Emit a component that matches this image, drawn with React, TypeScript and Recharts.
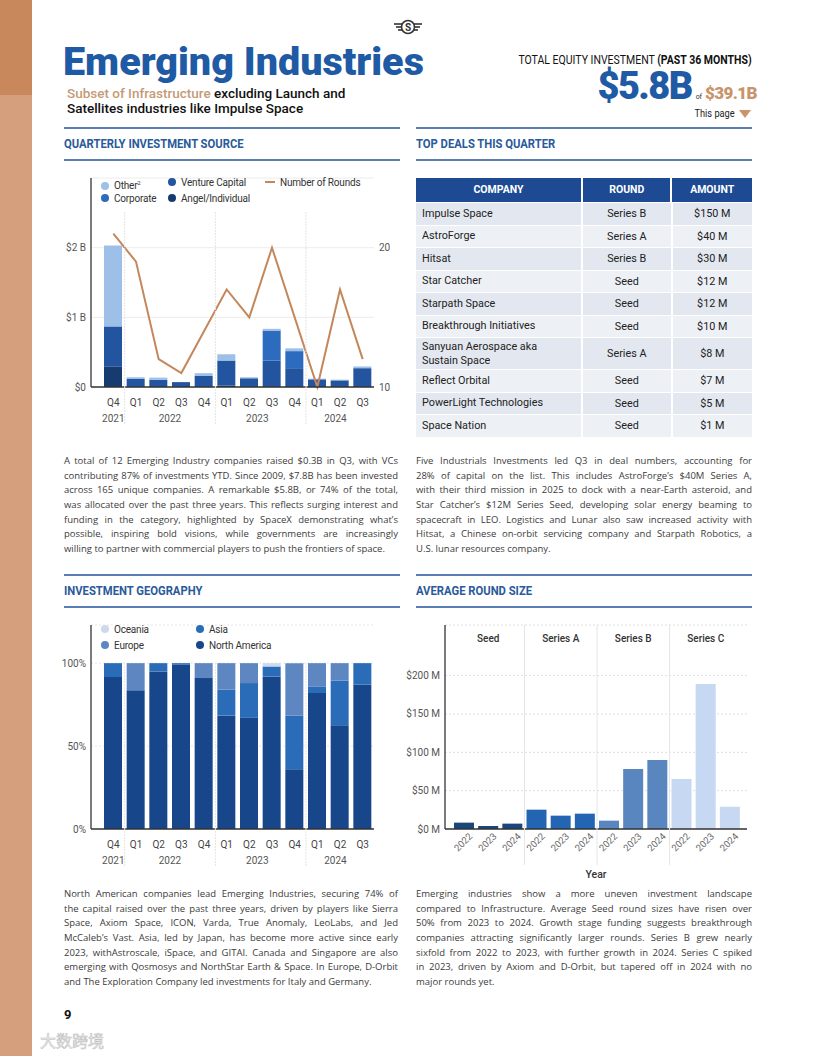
import React from 'react';
import { ComposedChart, BarChart, Bar, Line, XAxis, YAxis, CartesianGrid, Cell } from 'recharts';

// ---------- DATA ----------
const quarterLabels = ['Q4', 'Q1', 'Q2', 'Q3', 'Q4', 'Q1', 'Q2', 'Q3', 'Q4', 'Q1', 'Q2', 'Q3'];
const quarterYears = ['2021', '2022', '2022', '2022', '2022', '2023', '2023', '2023', '2023', '2024', '2024', '2024'];

// Quarterly investment source, $B
const angelIndividual = [0.29, 0, 0, 0, 0, 0.02, 0, 0, 0, 0, 0, 0];
const ventureCapital = [0.58, 0.115, 0.105, 0.07, 0.158, 0.36, 0.125, 0.38, 0.27, 0.11, 0.095, 0.27];
const corporateInv = [0, 0, 0, 0, 0, 0, 0, 0.43, 0.245, 0, 0, 0];
const otherInv = [1.16, 0.025, 0.03, 0, 0.04, 0.09, 0.015, 0.025, 0.04, 0.01, 0.01, 0.025];
const numberOfRounds = [21, 19, 12, 11, 14, 17, 15, 20, 15, 10, 17, 12];
const sourceTicks = [0, 1, 2];
const roundTicks = [10, 20];

// Investment geography, %
const northAmerica = [91.6, 83.6, 95, 99, 91, 68.5, 67, 92, 36, 82, 62.5, 87];
const asiaShare = [8.4, 0, 5, 1, 0, 15.6, 21, 6, 32.5, 4, 27, 13];
const europeShare = [0, 16.4, 0, 0, 9, 15.9, 12, 0, 31.5, 14, 10.5, 0];
const oceaniaShare = [0, 0, 0, 0, 0, 0, 0, 2, 0, 0, 0, 0];
const geoTicks = [0, 50, 100];

// Average round size, $M
const roundStages = ['Seed', 'Seed', 'Seed', 'Series A', 'Series A', 'Series A', 'Series B', 'Series B', 'Series B', 'Series C', 'Series C', 'Series C'];
const roundYears = ['2022', '2023', '2024', '2022', '2023', '2024', '2022', '2023', '2024', '2022', '2023', '2024'];
const avgRoundSize = [8.3, 3.9, 7, 25.2, 17.4, 20, 10.9, 78.3, 90, 65.2, 189, 29];
const roundSizeTicks = [0, 50, 100, 150, 200];

// Top deals
const dealCompanies = ['Impulse Space', 'AstroForge', 'Hitsat', 'Star Catcher', 'Starpath Space', 'Breakthrough Initiatives', 'Sanyuan Aerospace aka Sustain Space', 'Reflect Orbital', 'PowerLight Technologies', 'Space Nation'];
const dealRounds = ['Series B', 'Series A', 'Series B', 'Seed', 'Seed', 'Seed', 'Series A', 'Seed', 'Seed', 'Seed'];
const dealAmounts = ['$150 M', '$40 M', '$30 M', '$12 M', '$12 M', '$10 M', '$8 M', '$7 M', '$5 M', '$1 M'];

// ---------- STYLE ----------
const FONT = 'Roboto, "Noto Sans", sans-serif';
const BODY_FONT_NAME = '"Open Sans"';
const BODY_SIZE = 9.5;
const BLUE = '#1f5aa5';
const SECTION_BLUE = '#2a5a9b';
const RULE = '#5b7db5';
const TAN = '#c8946c';

const SRC_COLORS = { angel: '#163b6e', vc: '#23549f', corporate: '#2c6bbd', other: '#9ec0e8' };
const GEO_COLORS = { na: '#17468a', asia: '#2a6cb8', europe: '#5e87c2', oceania: '#cdd9ec' };
const STAGE_COLORS: Record<string, string> = { Seed: '#1b4679', 'Series A': '#2365b3', 'Series B': '#5a86c0', 'Series C': '#c6d8f2' };

const sourceData = quarterLabels.map((q, i) => ({
  key: `${quarterYears[i]}-${q}`,
  angel: angelIndividual[i],
  vc: ventureCapital[i],
  corporate: corporateInv[i],
  other: otherInv[i],
  rounds: numberOfRounds[i],
}));
const geoData = quarterLabels.map((q, i) => ({
  key: `${quarterYears[i]}-${q}`,
  na: northAmerica[i],
  asia: asiaShare[i],
  europe: europeShare[i],
  oceania: oceaniaShare[i],
}));
const roundData = roundStages.map((s, i) => ({ key: `${s}-${roundYears[i]}`, stage: s, size: avgRoundSize[i] }));

// quarter chart geometry
const Q_W = 340, Q_YL = 31, Q_YR = 26, Q_PADL = 11;
const Q_BAND = (Q_W - Q_YL - Q_YR - Q_PADL) / quarterLabels.length;
const R_W = 347, R_YL = 40, R_MR = 5, R_PADL = 7, R_PADR = 5;
const R_BAND = (R_W - R_YL - R_MR - R_PADL - R_PADR) / roundStages.length;

const yearLabelAt: Record<number, { text: string; shift: number }> = {
  0: { text: '2021', shift: 0 },
  2: { text: '2022', shift: 0.5 },
  6: { text: '2023', shift: 0.35 },
  10: { text: '2024', shift: -0.2 },
};

function makeQuarterTick(sepTop: number, sepBottom: number) {
  return (props: any) => {
    const { x, y, index } = props;
    const yl = yearLabelAt[index];
    const isYearStart = index > 0 && quarterLabels[index] === 'Q1';
    return (
      <g>
        {isYearStart && (
          <line x1={x - Q_BAND / 2} x2={x - Q_BAND / 2} y1={y - sepTop} y2={y + sepBottom} stroke="#e3e3e3" strokeWidth={1} strokeDasharray="2 1" />
        )}
        <text x={x} y={y + 10.5} textAnchor="middle" fontSize={10} fill="#444" fontFamily={FONT}>{quarterLabels[index]}</text>
        {yl && (
          <text x={x + yl.shift * Q_BAND} y={y + 26.5} textAnchor="middle" fontSize={10} fill="#555" fontFamily={FONT}>{yl.text}</text>
        )}
      </g>
    );
  };
}

const makeYTick = (fmt: (v: number) => string) => (props: any) => {
  const { x, y, payload, textAnchor } = props;
  return (
    <text x={x} y={y + 3.5} textAnchor={textAnchor || 'end'} fontSize={10} fill="#555" fontFamily={FONT}>
      {fmt(payload.value)}
    </text>
  );
};

const RoundYearTick = (props: any) => {
  const { x, y, index } = props;
  return (
    <text x={x + 9} y={y} transform={`rotate(-45, ${x + 9}, ${y})`} textAnchor="end" fontSize={9.5} fill="#666" fontFamily={FONT}>
      {roundYears[index]}
    </text>
  );
};

const StageTick = (props: any) => {
  const { x, y, index } = props;
  const first = index > 0 && roundStages[index] !== roundStages[index - 1];
  const middle = roundStages[index] === roundStages[index - 1] && roundStages[index] === roundStages[index + 1];
  return (
    <g>
      {first && <line x1={x - R_BAND / 2} x2={x - R_BAND / 2} y1={y + 8} y2={y + 248} stroke="#e6e6e6" strokeWidth={1} />}
      {middle && (
        <text x={x} y={y + 24.5} textAnchor="middle" fontSize={10} fontWeight={500} fill="#333" fontFamily={FONT}>{roundStages[index]}</text>
      )}
    </g>
  );
};

// ---------- TEXT MEASURE ----------
let _ctx: CanvasRenderingContext2D | null = null;
function measureText(text: string, font: string): number {
  if (typeof document === 'undefined') return 0;
  if (!_ctx) _ctx = document.createElement('canvas').getContext('2d');
  if (!_ctx) return 0;
  _ctx.font = font;
  return _ctx.measureText(text).width;
}

// ---------- SMALL COMPONENTS ----------
const Dot = ({ color }: { color: string }) => (
  <span style={{ display: 'inline-block', width: 8, height: 8, borderRadius: 4, background: color, marginRight: 5, verticalAlign: 'middle', position: 'relative', top: -1 }} />
);

const LegendItem = ({ left, top, color, label, line }: any) => (
  <div style={{ position: 'absolute', left, top, fontFamily: FONT, fontSize: 10, color: '#333', whiteSpace: 'nowrap', letterSpacing: -0.2, lineHeight: '12px' }}>
    {line ? (
      <span style={{ display: 'inline-block', width: 10, height: 2, background: color, marginRight: 5, verticalAlign: 'middle', position: 'relative', top: -1 }} />
    ) : (
      <Dot color={color} />
    )}
    {label}
  </div>
);

const SectionTitle = ({ left, top, text }: any) => (
  <div style={{ position: 'absolute', left, top, fontFamily: FONT, fontWeight: 700, fontSize: 12.5, color: SECTION_BLUE, whiteSpace: 'nowrap', transform: 'scaleX(0.9)', transformOrigin: 'left center', lineHeight: '14px' }}>
    {text}
  </div>
);

const Rule = ({ left, top, width }: any) => (
  <div style={{ position: 'absolute', left, top, width, height: 1.5, background: RULE }} />
);

const Para = ({ left, top, width, lines }: any) => {
  const font = `${BODY_SIZE}px ${BODY_FONT_NAME}`;
  return (
    <div style={{ position: 'absolute', left, top, width, fontFamily: BODY_FONT_NAME, fontSize: BODY_SIZE, lineHeight: '14.65px', color: '#3b3b3b' }}>
      {lines.map((l: string, i: number) => {
        const last = i === lines.length - 1;
        const w = measureText(l, font);
        const avail = width - 1.5;
        const ls = w > avail ? (avail - w) / l.length : 0;
        return (
          <div key={i} style={{ textAlign: last ? 'left' : 'justify', textAlignLast: last ? 'left' : 'justify', letterSpacing: ls, whiteSpace: 'nowrap', height: 14.65 } as any}>
            {l}
          </div>
        );
      })}
    </div>
  );
};

// ---------- TEXT ----------
const para1 = [
  'A total of 12 Emerging Industry companies raised $0.3B in Q3, with VCs',
  'contributing 87% of investments YTD. Since 2009, $7.8B has been invested',
  'across 165 unique companies. A remarkable $5.8B, or 74% of the total,',
  'was allocated over the past three years. This reflects surging interest and',
  'funding in the category, highlighted by SpaceX demonstrating what’s',
  'possible, inspiring bold visions, while governments are increasingly',
  'willing to partner with commercial players to push the frontiers of space.',
];
const para2 = [
  'Five Industrials Investments led Q3 in deal numbers, accounting for',
  '28% of capital on the list. This includes AstroForge’s $40M Series A,',
  'with their third mission in 2025 to dock with a near-Earth asteroid, and',
  'Star Catcher’s $12M Series Seed, developing solar energy beaming to',
  'spacecraft in LEO. Logistics and Lunar also saw increased activity with',
  'Hitsat, a Chinese on-orbit servicing company and Starpath Robotics, a',
  'U.S. lunar resources company.',
];
const para3 = [
  'North American companies lead Emerging Industries, securing 74% of',
  'the capital raised over the past three years, driven by players like Sierra',
  'Space, Axiom Space, ICON, Varda, True Anomaly, LeoLabs, and Jed',
  'McCaleb’s Vast. Asia, led by Japan, has become more active since early',
  '2023, withAstroscale, iSpace, and GITAI. Canada and Singapore are also',
  'emerging with Qosmosys and NorthStar Earth & Space. In Europe, D-Orbit',
  'and The Exploration Company led investments for Italy and Germany.',
];
const para4 = [
  'Emerging industries show a more uneven investment landscape',
  'compared to Infrastructure. Average Seed round sizes have risen over',
  '50% from 2023 to 2024. Growth stage funding suggests breakthrough',
  'companies attracting significantly larger rounds. Series B grew nearly',
  'sixfold from 2022 to 2023, with further growth in 2024. Series C spiked',
  'in 2023, driven by Axiom and D-Orbit, but tapered off in 2024 with no',
  'major rounds yet.',
];

// ---------- CHARTS ----------
const SourceChart = () => (
  <div style={{ position: 'absolute', left: 60, top: 170, width: Q_W, height: 260 }}>
    <ComposedChart width={Q_W} height={260} data={sourceData} margin={{ top: 8, right: 0, bottom: 0, left: 0 }}>
      <CartesianGrid yAxisId="left" vertical={false} stroke="#ececec" />
      <XAxis dataKey="key" interval={0} height={43} padding={{ left: Q_PADL, right: 0 }} tick={makeQuarterTick(183, 30)} tickLine={false} axisLine={{ stroke: '#333', strokeWidth: 1.3 }} />
      <YAxis yAxisId="left" width={Q_YL} domain={[0, 3]} ticks={sourceTicks} tickSize={3} axisLine={{ stroke: '#333', strokeWidth: 1.3 }} tickLine={false} tick={makeYTick((v) => (v === 0 ? '$0' : `$${v} B`))} />
      <YAxis yAxisId="right" orientation="right" width={Q_YR} domain={[10, 25]} ticks={roundTicks} axisLine={false} tickLine={false} tickSize={3} tick={makeYTick((v) => `${v}`)} />
      <Bar yAxisId="left" dataKey="angel" stackId="s" fill={SRC_COLORS.angel} barSize={18} isAnimationActive={false} />
      <Bar yAxisId="left" dataKey="vc" stackId="s" fill={SRC_COLORS.vc} barSize={18} isAnimationActive={false} />
      <Bar yAxisId="left" dataKey="corporate" stackId="s" fill={SRC_COLORS.corporate} barSize={18} isAnimationActive={false} />
      <Bar yAxisId="left" dataKey="other" stackId="s" fill={SRC_COLORS.other} barSize={18} isAnimationActive={false} />
      <Line yAxisId="right" type="linear" dataKey="rounds" stroke="#c4875c" strokeWidth={2} dot={false} activeDot={false} isAnimationActive={false} />
    </ComposedChart>
    <LegendItem left={41} top={7} color={SRC_COLORS.other} label={<span>Other<sup style={{ fontSize: 6 }}>2</sup></span>} />
    <LegendItem left={108} top={7} color={SRC_COLORS.vc} label="Venture Capital" />
    <LegendItem left={205} top={7} color="#c4875c" label="Number of Rounds" line />
    <LegendItem left={41} top={23} color={SRC_COLORS.corporate} label="Corporate" />
    <LegendItem left={108} top={23} color={SRC_COLORS.angel} label="Angel/Individual" />
  </div>
);

const GeoChart = () => (
  <div style={{ position: 'absolute', left: 60, top: 617, width: Q_W, height: 255 }}>
    <BarChart width={Q_W} height={255} data={geoData} margin={{ top: 8, right: Q_YR, bottom: 0, left: 0 }}>
      <CartesianGrid vertical={false} stroke="#e6e6e6" strokeDasharray="2 2" />
      <XAxis dataKey="key" interval={0} height={43} padding={{ left: Q_PADL, right: 0 }} tick={makeQuarterTick(174, 29)} tickLine={false} axisLine={{ stroke: '#333', strokeWidth: 1.3 }} />
      <YAxis width={Q_YL} domain={[0, 123]} ticks={geoTicks} tickSize={3} axisLine={{ stroke: '#333', strokeWidth: 1.3 }} tickLine={false} tick={makeYTick((v) => `${v}%`)} />
      <Bar dataKey="na" stackId="g" fill={GEO_COLORS.na} barSize={18} isAnimationActive={false} />
      <Bar dataKey="asia" stackId="g" fill={GEO_COLORS.asia} barSize={18} isAnimationActive={false} />
      <Bar dataKey="europe" stackId="g" fill={GEO_COLORS.europe} barSize={18} isAnimationActive={false} />
      <Bar dataKey="oceania" stackId="g" fill={GEO_COLORS.oceania} barSize={18} isAnimationActive={false} />
    </BarChart>
    <LegendItem left={41} top={7} color={GEO_COLORS.oceania} label="Oceania" />
    <LegendItem left={136} top={7} color={GEO_COLORS.asia} label="Asia" />
    <LegendItem left={41} top={23} color={GEO_COLORS.europe} label="Europe" />
    <LegendItem left={136} top={23} color={GEO_COLORS.na} label="North America" />
  </div>
);

const RoundChart = () => (
  <div style={{ position: 'absolute', left: 405, top: 617, width: R_W, height: 268 }}>
    <BarChart width={R_W} height={268} data={roundData} margin={{ top: 7, right: R_MR, bottom: 0, left: 0 }}>
      <CartesianGrid vertical={false} stroke="#dedede" strokeDasharray="2 2" />
      <XAxis xAxisId="top" orientation="top" dataKey="key" interval={0} height={1} padding={{ left: R_PADL, right: R_PADR }} tick={StageTick} tickLine={false} axisLine={false} />
      <XAxis dataKey="key" interval={0} height={56} padding={{ left: R_PADL, right: R_PADR }} tick={RoundYearTick} tickLine={false} axisLine={{ stroke: '#333', strokeWidth: 1.3 }}
        label={{ value: 'Year', position: 'insideBottom', offset: 7, fontSize: 10.5, fontWeight: 500, fill: '#333', fontFamily: FONT }} />
      <YAxis width={R_YL} domain={[0, 266]} ticks={roundSizeTicks} tickSize={3} axisLine={{ stroke: '#333', strokeWidth: 1.3 }} tickLine={false} tick={makeYTick((v) => `$${v} M`)} />
      <Bar dataKey="size" barSize={20} isAnimationActive={false}>
        {roundData.map((d, i) => (
          <Cell key={i} fill={STAGE_COLORS[d.stage]} />
        ))}
      </Bar>
    </BarChart>
  </div>
);

const DealsTable = () => {
  const rowH = (c: string) => (c.length > 30 ? 31 : 21.5);
  return (
    <div style={{ position: 'absolute', left: 416, top: 178, width: 336, fontFamily: FONT, fontSize: 10.8, color: '#222' }}>
      <div style={{ display: 'flex', height: 24, background: '#1e4a94', color: '#fff', fontWeight: 700, fontSize: 10.5, alignItems: 'center' }}>
        <div style={{ width: 166, textAlign: 'center', borderRight: '2px solid #fff', height: 24, lineHeight: '24px' }}>COMPANY</div>
        <div style={{ width: 88, textAlign: 'center', borderRight: '2px solid #fff', height: 24, lineHeight: '24px' }}>ROUND</div>
        <div style={{ width: 80, textAlign: 'center', height: 24, lineHeight: '24px' }}>AMOUNT</div>
      </div>
      {dealCompanies.map((c, i) => (
        <div key={i} style={{ display: 'flex', height: rowH(c), marginTop: 1, background: i % 2 === 0 ? '#e3e8f0' : '#edf0f5', alignItems: 'center' }}>
          <div style={{ width: 160, paddingLeft: 6, borderRight: '2px solid #fff', height: '100%', display: 'flex', alignItems: 'center', lineHeight: '14px', whiteSpace: c.length > 30 ? 'normal' : 'nowrap' }}>
            {c.length > 30 ? <span>Sanyuan Aerospace aka<br />Sustain Space</span> : c}
          </div>
          <div style={{ width: 88, textAlign: 'center', borderRight: '2px solid #fff', height: '100%', display: 'flex', alignItems: 'center', justifyContent: 'center' }}>{dealRounds[i]}</div>
          <div style={{ width: 80, textAlign: 'center', height: '100%', display: 'flex', alignItems: 'center', justifyContent: 'center' }}>{dealAmounts[i]}</div>
        </div>
      ))}
    </div>
  );
};

const Logo = () => (
  <svg style={{ position: 'absolute', left: 392, top: 18 }} width={32} height={18} viewBox="0 0 32 18">
    <line x1={2} y1={6} x2={10} y2={6} stroke="#333" strokeWidth={1.6} />
    <line x1={4} y1={9} x2={10} y2={9} stroke="#333" strokeWidth={1.6} />
    <line x1={6} y1={12} x2={10} y2={12} stroke="#333" strokeWidth={1.6} />
    <line x1={22} y1={6} x2={30} y2={6} stroke="#333" strokeWidth={1.6} />
    <line x1={22} y1={9} x2={28} y2={9} stroke="#333" strokeWidth={1.6} />
    <line x1={22} y1={12} x2={26} y2={12} stroke="#333" strokeWidth={1.6} />
    <circle cx={16} cy={9} r={6.5} fill="#fff" stroke="#333" strokeWidth={1.6} />
    <text x={16} y={12.5} textAnchor="middle" fontSize={10} fontWeight={700} fill="#333" fontFamily={FONT}>S</text>
  </svg>
);

export default function App() {
  return (
    <div style={{ position: 'absolute', left: 0, top: 0, width: 816, height: 1056, background: '#fff', overflow: 'hidden' }}>
      {/* side strip */}
      <div style={{ position: 'absolute', left: 0, top: 0, width: 32, height: 95, background: '#c9885c' }} />
      <div style={{ position: 'absolute', left: 0, top: 95, width: 32, height: 961, background: '#d59e7c' }} />
      <Logo />

      {/* header */}
      <div style={{ position: 'absolute', left: 63, top: 44.5, fontFamily: FONT, fontWeight: 900, fontSize: 39.5, lineHeight: '34px', color: BLUE, letterSpacing: 0, whiteSpace: 'nowrap' }}>
        Emerging Industries
      </div>
      <div style={{ position: 'absolute', left: 67, top: 85.5, fontFamily: FONT, fontWeight: 500, fontSize: 13.5, lineHeight: '15px', color: '#111', whiteSpace: 'nowrap' }}>
        <span style={{ color: '#c49a78' }}>Subset of Infrastructure</span> excluding Launch and
        <br />
        Satellites industries like Impulse Space
      </div>

      <div style={{ position: 'absolute', right: 64, top: 52, fontFamily: FONT, fontSize: 12.5, lineHeight: '16px', color: '#111', whiteSpace: 'nowrap', transform: 'scaleX(0.84)', transformOrigin: 'right center' }}>
        TOTAL EQUITY INVESTMENT <b>(PAST 36 MONTHS)</b>
      </div>
      <div style={{ position: 'absolute', right: 59, top: 66, display: 'flex', alignItems: 'baseline', fontFamily: FONT, whiteSpace: 'nowrap' }}>
        <span style={{ fontWeight: 900, fontSize: 38, color: BLUE, letterSpacing: -1.6, lineHeight: '40px' }}>$5.8B</span>
        <span style={{ fontSize: 7, color: '#333', margin: '0 3px 0 4px' }}>of</span>
        <span style={{ fontWeight: 900, fontSize: 17, color: TAN, letterSpacing: -0.6 }}>$39.1B</span>
      </div>
      <div style={{ position: 'absolute', right: 64, top: 107, fontFamily: FONT, fontSize: 10.5, lineHeight: '14px', color: '#222', whiteSpace: 'nowrap', display: 'flex', alignItems: 'center' }}>
        <span style={{ transform: 'scaleX(0.88)', transformOrigin: 'right center', display: 'inline-block' }}>This page</span>
        <svg width={14} height={10} style={{ marginLeft: 3 }}>
          <polygon points="1,1 13,1 7,9" fill={TAN} />
        </svg>
      </div>

      {/* top sections */}
      <Rule left={64} top={127} width={336} />
      <Rule left={416} top={127} width={336} />
      <SectionTitle left={64} top={137} text="QUARTERLY INVESTMENT SOURCE" />
      <SectionTitle left={416} top={137} text="TOP DEALS THIS QUARTER" />
      <Rule left={64} top={159} width={336} />
      <Rule left={416} top={159} width={336} />

      <SourceChart />
      <DealsTable />

      <Para left={64} top={454} width={334} lines={para1} />
      <Para left={416} top={454} width={336} lines={para2} />

      {/* bottom sections */}
      <Rule left={64} top={574} width={336} />
      <Rule left={416} top={574} width={336} />
      <SectionTitle left={64} top={584} text="INVESTMENT GEOGRAPHY" />
      <SectionTitle left={416} top={584} text="AVERAGE ROUND SIZE" />
      <Rule left={64} top={606} width={336} />
      <Rule left={416} top={606} width={336} />

      <GeoChart />
      <RoundChart />

      <Para left={64} top={887} width={334} lines={para3} />
      <Para left={416} top={887} width={336} lines={para4} />

      <div style={{ position: 'absolute', left: 64, top: 1007, fontFamily: FONT, fontWeight: 700, fontSize: 13, lineHeight: '16px', color: '#111' }}>9</div>
      <div style={{ position: 'absolute', left: 40, top: 1030, fontFamily: '"Noto Sans CJK SC", sans-serif', fontSize: 16, lineHeight: '20px', color: 'rgba(235,235,235,0.9)', WebkitTextStroke: '0.5px #bbb', whiteSpace: 'nowrap' } as any}>
        大数跨境
      </div>
    </div>
  );
}
